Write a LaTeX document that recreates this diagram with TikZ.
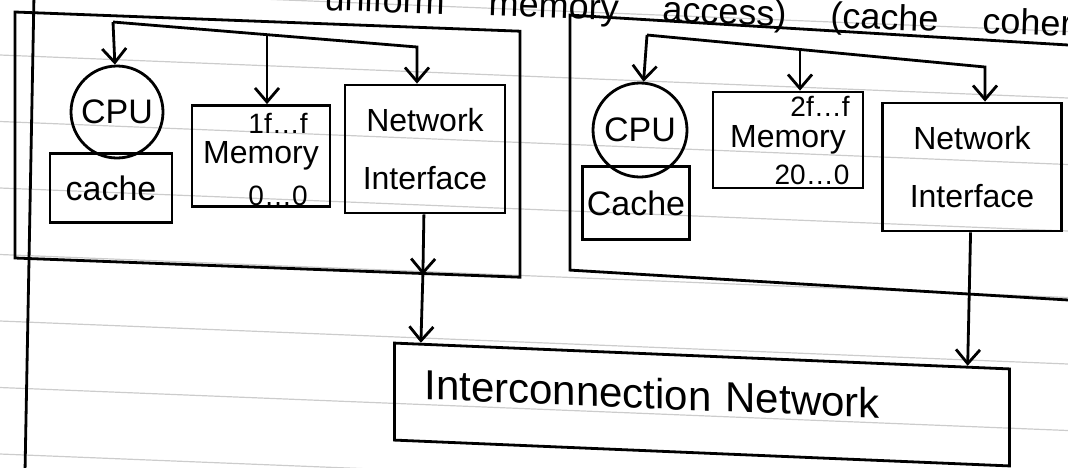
\documentclass[tikz,border=0pt]{standalone}
\usepackage{fontspec}
\setmainfont{Liberation Sans}
\usetikzlibrary{arrows.meta,positioning,calc}

\newcommand{\headfont}{\fontsize{18}{20}\selectfont\spaceskip 22pt\relax}

\begin{document}
\begin{tikzpicture}[
  x=0.5pt, y=-0.5pt,
  >={Straight Barb[length=7pt,width=12pt]},
  line width=1.4pt,
  rule/.style={black!20, line width=0.6pt},
  outer/.style={draw, inner sep=0pt},
  part/.style={draw, align=center, inner sep=1pt},
  cpu/.style={draw, circle, minimum size=46pt, inner sep=0pt, font=\fontsize{17}{20}\selectfont},
  cachebox/.style={part, font=\fontsize{17}{20}\selectfont},
  membox/.style={part, font=\fontsize{16}{20}\selectfont},
  nibox/.style={part, font=\fontsize{16}{29}\selectfont},
  addr/.style={inner sep=0pt, font=\fontsize{14}{16}\selectfont},
  heading/.style={inner sep=0pt, font=\headfont},
  link/.style={->}
]

\path[use as bounding box, clip] (0,0) rectangle (1068,467);

% ruled paper
\foreach \y in {-11.5,55,121.5,188,254.5,321,387.5,454}
  \draw[rule] (0,\y) -- (1068,{\y+43});
\draw (34,-5) -- (25,472);

% heading, cut off at the top
\node[heading, anchor=base west, rotate=-2] (title) at (323,10) {uniform memory access) (cache coherent};

% Node A
\node[outer, minimum width=252.5pt, minimum height=123pt, yslant=-0.038] (nodeA) at (267.5,144.6) {};
\node[cpu] (cpuA) at (117,112) {CPU};
\node[cachebox, minimum width=61pt, minimum height=34.5pt] (cacheA) at (111,188) {cache};
\node[membox, minimum width=69pt, minimum height=50.5pt] (memA) at (261,156) {Memory};
\node[addr] (memAhi) at (278,123) {1f\ldots f};
\node[addr] (memAlo) at (278,196) {0\ldots 0};
\node[nibox, minimum width=80pt, minimum height=64pt] (niA) at (425,149) {Network\\Interface};

% Node B
\node[outer, minimum width=265pt, minimum height=127.5pt, yslant=-0.06] (nodeB) at (835,158.5) {};
\node[cpu, minimum size=47pt] (cpuB) at (640,130) {CPU};
\node[cachebox, minimum width=53.5pt, minimum height=36.5pt] (cacheB) at (636,203) {Cache};
\node[membox, minimum width=75pt, minimum height=48pt] (memB) at (788,140) {Memory};
\node[addr] (memBhi) at (820,106) {2f\ldots f};
\node[addr] (memBlo) at (812,175) {20\ldots 0};
\node[nibox, minimum width=89.5pt, minimum height=64pt] (niB) at (972,167) {Network\\Interface};

% Interconnection
\node[draw, yslant=-0.042, minimum width=307.5pt, minimum height=48.5pt,
  text width=277.5pt, inner xsep=15pt, align=left, text depth=9pt,
  font=\fontsize{21}{24}\selectfont] (icn) at (702,404.5) {Interconnection Network};

% buses
\coordinate (busA) at (113,22);
\coordinate (busAr) at (417,47);
\coordinate (tapA) at (267,35);
\draw[link] (busA) -- (cpuA);
\draw[link] (busA) -- (busAr) -- (busAr |- niA.north);
\draw[link] (tapA) -- (tapA |- memA.north);

\coordinate (busB) at (647,35);
\coordinate (busBr) at (985,67);
\coordinate (tapB) at (800,49.5);
\draw[link] (busB) -- (cpuB);
\draw[link] (busB) -- (busBr) -- (busBr |- niB.north);
\draw[link] (tapB) -- (tapB |- memB.north);

% to the interconnection network
\coordinate (crossA) at ($(nodeA.south west)!0.806!(nodeA.south east)$);
\draw[link] (niA) -- (crossA);
\draw[link] (crossA) -- ($(icn.north west)!0.045!(icn.north east)$);
\draw[link] (niB) -- ($(icn.north west)!0.93!(icn.north east)$);

\end{tikzpicture}
\end{document}
